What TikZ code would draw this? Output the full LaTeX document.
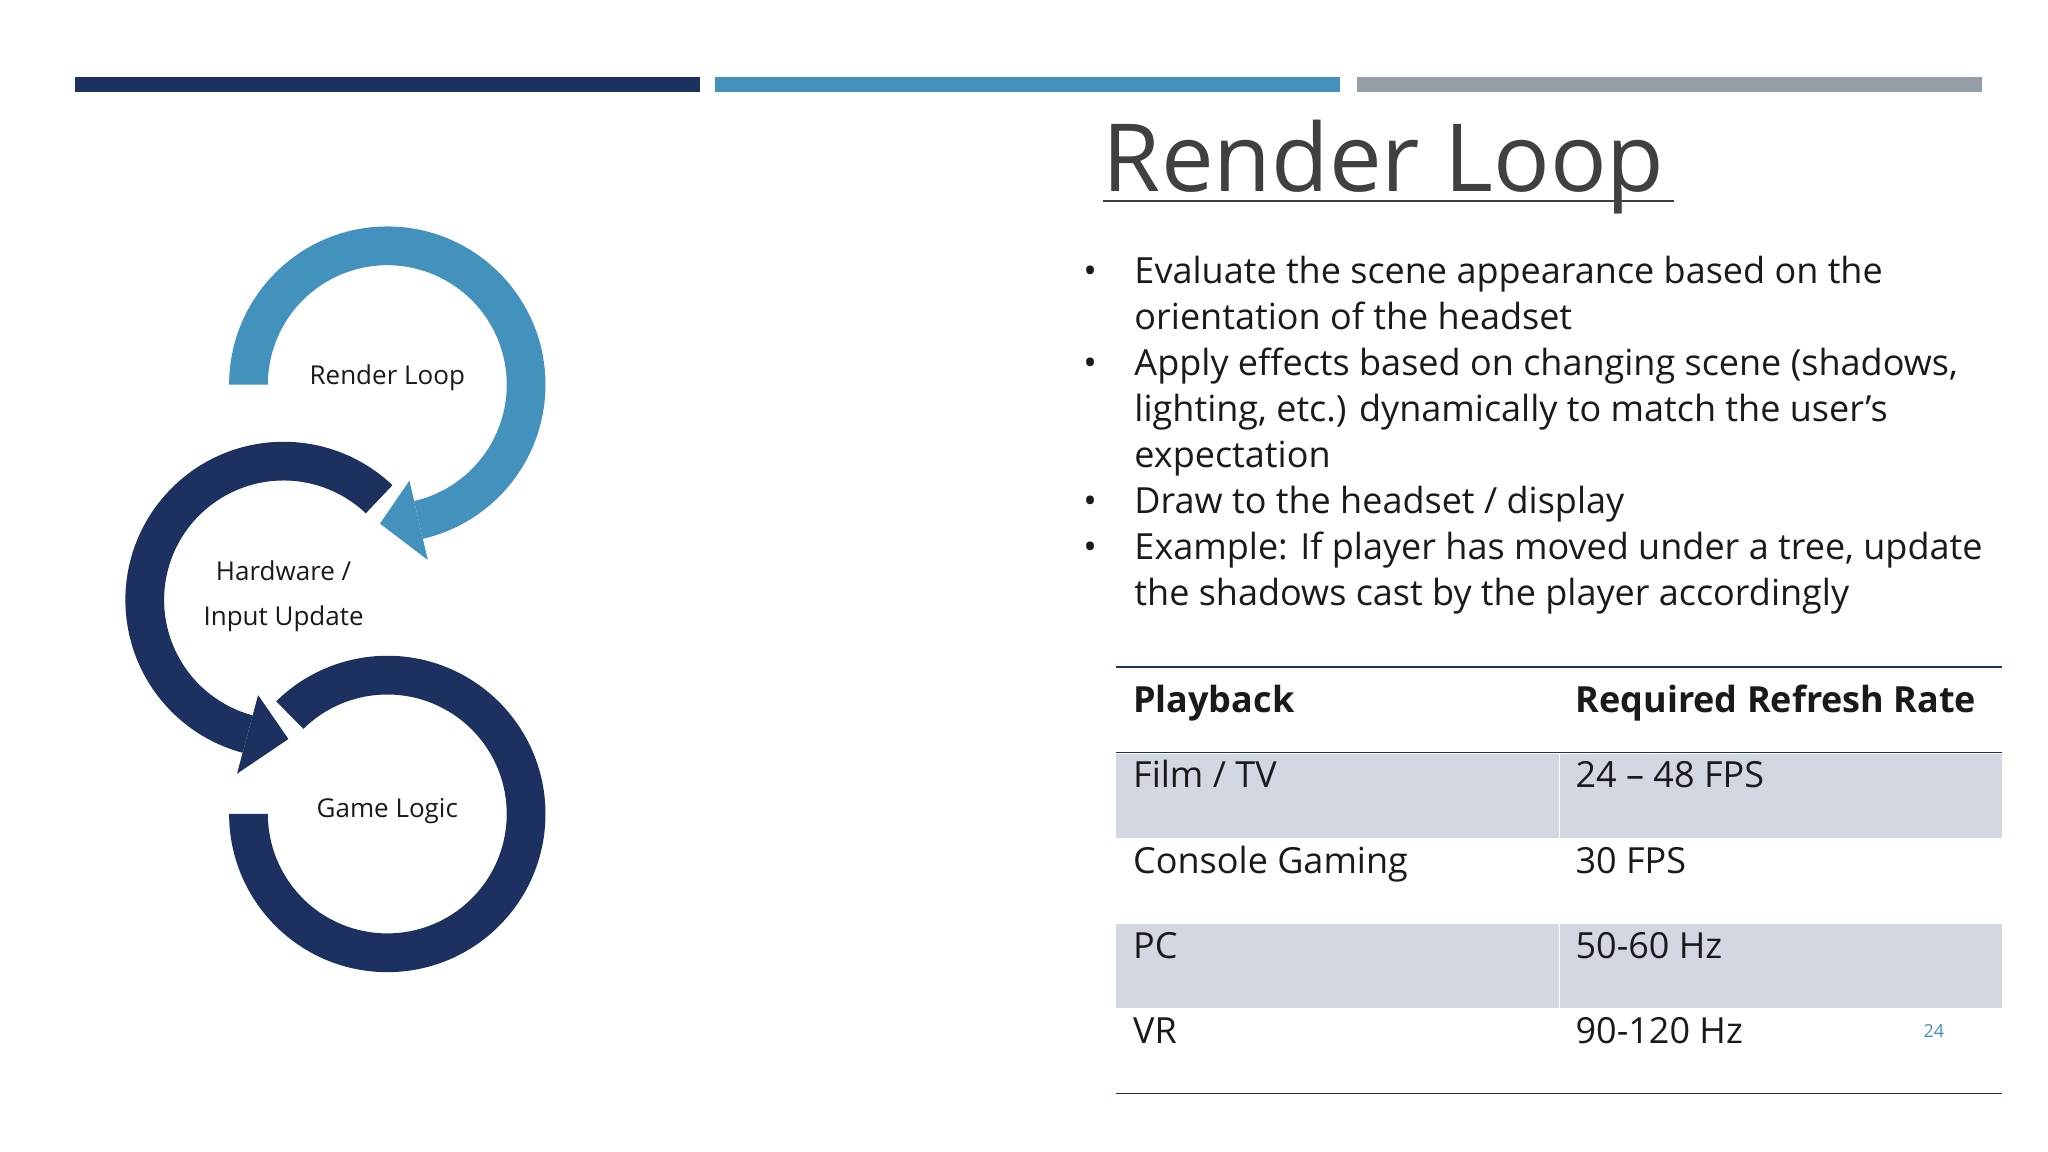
\documentclass[tikz,border=0pt]{standalone}
\usepackage{fontspec}
\setmainfont{Open Sans}
\usetikzlibrary{calc}
\definecolor{navy}{HTML}{1C3160}
\definecolor{midblue}{HTML}{4391BD}
\definecolor{greybar}{HTML}{959EA7}
\definecolor{rowshade}{HTML}{D3D7E1}
\definecolor{titlec}{HTML}{404040}
\definecolor{bodyc}{HTML}{1A1A1A}
\tikzset{
 body/.style={anchor=base west,inner sep=0pt,text=bodyc,font=\fontsize{36}{44}\selectfont},
 hdr/.style={body,font=\fontsize{36}{44}\selectfont\bfseries},
 lbl/.style={inner sep=0pt,text=bodyc,font=\fontsize{26}{32}\selectfont},
}
\begin{document}
\begin{tikzpicture}[x=1.3128pt,y=1.3128pt]
\useasboundingbox (0,0) rectangle (1560,-877.5);
\fill[white] (0,0) rectangle (1560,-877.5);
% bars
\fill[navy] (57,-59) rectangle (533,-70);
\fill[midblue] (545,-59) rectangle (1021,-70);
\fill[greybar] (1034,-59) rectangle (1510,-70);
% Render loop ring
\fill[midblue] (295,-293)++(180:120.5) arc[start angle=180,end angle=-77,radius=120.5] -- ($(295,-293)+(-77:91)$) arc[start angle=-77,end angle=180,radius=91] -- cycle;
\fill[midblue] ($(295,-293)+(-77:137)$) -- ($(295,-293)+(-93:106)$) -- ($(295,-293)+(-77:75)$) -- cycle;
% Hardware ring
\fill[navy] (216,-457)++(46.5:120.5) arc[start angle=46.5,end angle=255,radius=120.5] -- ($(216,-457)+(255:91)$) arc[start angle=255,end angle=46.5,radius=91] -- cycle;
\fill[navy] ($(216,-457)+(255:137)$) -- ($(216,-457)+(272:106)$) -- ($(216,-457)+(255:75)$) -- cycle;
% Game logic ring
\fill[navy] (295,-620)++(180:120.5) arc[start angle=180,end angle=494.6,radius=120.5] -- ($(295,-620)+(494.6:91)$) arc[start angle=494.6,end angle=180,radius=91] -- cycle;
\node[lbl] (rl) at (295,-288) {Render Loop};
\node[lbl] (hw1) at (216,-435) {Hardware /};
\node[lbl] (hw2) at (216,-471) {Input Update};
\node[lbl] (gl) at (295,-618) {Game Logic};
% title
\node[anchor=base west,inner sep=0pt,text=titlec,font=\fontsize{94}{110}\selectfont] (title) at (840,-146) {Render Loop};
\draw[titlec,line width=2.6pt] (840,-153) -- (1275,-153);
% bullets
\foreach \y/\t [count=\i] in {216/Evaluate the scene appearance based on the,251/orientation of the headset,286/{Apply effects based on changing scene (shadows,},321/{lighting, etc.) dynamically to match the user’s},356/expectation,391/{Draw to the headset / display},426/{Example: If player has moved under a tree, update},461/the shadows cast by the player accordingly}
  \node[body] (b\i) at (864,-\y) {\t};
\foreach \y [count=\i] in {216,286,391,426}
  \node[body] (d\i) at (825,-\y) {•};
% table
\fill[rowshade] (850,-574) rectangle (1525,-638);
\fill[rowshade] (850,-704) rectangle (1525,-768);
\draw[white,line width=1pt] (1188,-574) -- (1188,-638) (1188,-704) -- (1188,-768);
\draw[navy,line width=1.5pt] (850,-508) -- (1525,-508);
\draw[navy,line width=1.5pt] (850,-573) -- (1525,-573);
\draw[navy,line width=1.5pt] (850,-833) -- (1525,-833);
\node[hdr] (h1) at (863,-543) {Playback};
\node[hdr] (h2) at (1200,-543) {Required Refresh Rate};
\node[body] (r1a) at (863,-600) {Film / TV};
\node[body] (r1b) at (1200,-600) {24 – 48 FPS};
\node[body] (r2a) at (863,-665) {Console Gaming};
\node[body] (r2b) at (1200,-665) {30 FPS};
\node[body] (r3a) at (863,-730) {PC};
\node[body] (r3b) at (1200,-730) {50-60 Hz};
\node[body] (r4a) at (863,-795) {VR};
\node[body] (r4b) at (1200,-795) {90-120 Hz};
\node[inner sep=0pt,text=midblue,font=\fontsize{18}{20}\selectfont] (pg) at (1473,-785) {24};
\end{tikzpicture}
\end{document}
